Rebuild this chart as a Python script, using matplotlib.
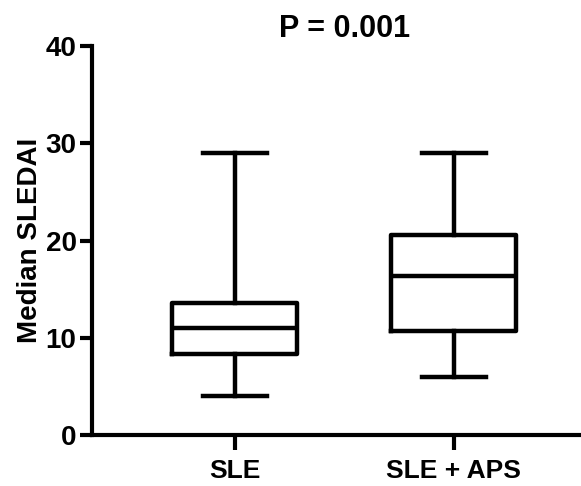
import matplotlib
matplotlib.use("Agg")
import matplotlib.pyplot as plt

# Data: min, Q1, median, Q3, max
groups = ["SLE", "SLE + APS"]
mins = [4, 6]
q1s = [8.3, 10.7]
medians = [11.0, 16.4]
q3s = [13.6, 20.6]
maxs = [29, 29]

plt.rcParams["font.family"] = ["Liberation Sans", "DejaVu Sans"]
plt.rcParams["font.weight"] = "bold"

fig = plt.figure(figsize=(5.81, 4.86), dpi=100)
ax = fig.add_axes([0.158, 0.105, 0.842, 0.80])

stats = []
for name, lo, q1, med, q3, hi in zip(groups, mins, q1s, medians, q3s, maxs):
    stats.append({"label": name, "whislo": lo, "q1": q1, "med": med,
                  "q3": q3, "whishi": hi, "fliers": []})

lw = 3.2
ax.bxp(stats, positions=[1, 2], widths=0.57, showfliers=False,
       boxprops=dict(color="black", linewidth=lw),
       medianprops=dict(color="black", linewidth=lw),
       whiskerprops=dict(color="black", linewidth=lw),
       capprops=dict(color="black", linewidth=lw),
       capwidths=0.29)

ax.set_xlim(0.347, 2.58)
ax.set_ylim(0, 40)
ax.set_yticks([0, 10, 20, 30, 40])
ax.set_xticks([1, 2])
ax.set_xticklabels(groups)

for s in ["top", "right"]:
    ax.spines[s].set_visible(False)
for s in ["left", "bottom"]:
    ax.spines[s].set_linewidth(3)

ax.tick_params(axis="both", width=3, length=9, labelsize=20)
ax.tick_params(axis="y", pad=2)
ax.tick_params(axis="x", length=11, pad=6, labelsize=19)
ax.set_ylabel("Median SLEDAI", fontsize=20, fontweight="bold", labelpad=2)

fig.text(345 / 581, 1 - 29 / 486, "P = 0.001", ha="center", va="center",
         fontsize=22, fontweight="bold")

fig.savefig("out.png", dpi=100)
